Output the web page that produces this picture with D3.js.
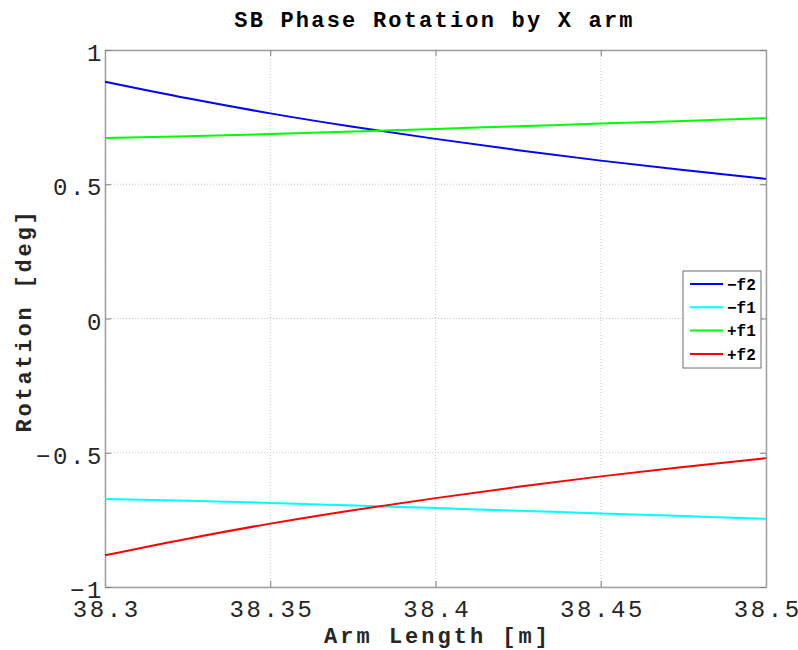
<!DOCTYPE html>
<html><head><meta charset="utf-8">
<script src="https://cdn.jsdelivr.net/npm/d3@7"></script>
<style>
body{margin:0;background:#fff;}
svg{display:block;}
</style></head>
<body><svg id="c" width="798" height="650"></svg>
<script>
const armLength = [38.3, 38.325, 38.35, 38.375, 38.4, 38.425, 38.45, 38.475, 38.5];
const minusF2 = [0.882, 0.820, 0.764, 0.714, 0.669, 0.627, 0.588, 0.553, 0.520];
const minusF1 = [-0.672, -0.679, -0.687, -0.696, -0.706, -0.716, -0.726, -0.736, -0.746];
const plusF1  = [0.672, 0.679, 0.687, 0.696, 0.706, 0.716, 0.726, 0.736, 0.746];
const plusF2  = [-0.882, -0.820, -0.764, -0.714, -0.669, -0.627, -0.588, -0.553, -0.520];
const seriesNames = ["−f2", "−f1", "+f1", "+f2"];
const seriesColors = ["#0000ff", "#00ffff", "#00ff00", "#ff0000"];
const xTicks = [38.3, 38.35, 38.4, 38.45, 38.5];
const yTicks = [-1, -0.5, 0, 0.5, 1];
const titleText = "SB Phase Rotation by X arm";
const xLabel = "Arm Length [m]";
const yLabel = "Rotation [deg]";

const svg = d3.select("#c");
const L = 105, R = 766, T = 50, B = 587;
const x = d3.scaleLinear().domain([38.3, 38.5]).range([L, R]);
const y = d3.scaleLinear().domain([-1, 1]).range([B, T]);
const mono = "'Liberation Mono','Courier New',monospace";
const fmt = v => String(v).replace("-", "\u2212");
const TLS = 2.6; // tick label letter spacing

// grid
const g = svg.append("g");
g.selectAll("line.gx").data(xTicks).join("line")
  .attr("x1", d => x(d)).attr("x2", d => x(d)).attr("y1", T).attr("y2", B)
  .attr("stroke", "#c8c8c8").attr("stroke-width", 1).attr("stroke-dasharray", "1,2");
g.selectAll("line.gy").data(yTicks).join("line")
  .attr("y1", d => y(d)).attr("y2", d => y(d)).attr("x1", L).attr("x2", R)
  .attr("stroke", "#c8c8c8").attr("stroke-width", 1).attr("stroke-dasharray", "1,2");

// axes with inward ticks
const axB = svg.append("g").attr("transform", `translate(0,${B})`)
  .call(d3.axisBottom(x).tickValues(xTicks).tickSizeInner(-6).tickSizeOuter(0).tickPadding(10).tickFormat(d => fmt(d)));
const axT = svg.append("g").attr("transform", `translate(0,${T})`)
  .call(d3.axisTop(x).tickValues(xTicks).tickSizeInner(-6).tickSizeOuter(0).tickFormat(""));
const axL = svg.append("g").attr("transform", `translate(${L},0)`)
  .call(d3.axisLeft(y).tickValues(yTicks).tickSizeInner(-6).tickSizeOuter(0).tickPadding(10).tickFormat(d => fmt(d)));
const axR = svg.append("g").attr("transform", `translate(${R},0)`)
  .call(d3.axisRight(y).tickValues(yTicks).tickSizeInner(-6).tickSizeOuter(0).tickFormat(""));
[axB, axT, axL, axR].forEach(a => {
  a.select(".domain").attr("stroke", "#a0a0a0").attr("stroke-width", 1.5);
  a.selectAll(".tick line").attr("stroke", "#808080");
  a.selectAll("text").attr("font-family", mono).attr("font-size", 24).attr("fill", "#262626")
    .attr("letter-spacing", TLS);
});
axB.selectAll("text").attr("y", 30).attr("dy", 0).attr("dx", TLS / 2);
axL.selectAll("text").attr("x", -1).attr("dy", 0).attr("y", 10.5);

// lines
const allSeries = [minusF2, minusF1, plusF1, plusF2];
const line = d3.line().x((d, i) => x(armLength[i])).y(d => y(d)).curve(d3.curveMonotoneX);
svg.append("g").selectAll("path").data(allSeries).join("path")
  .attr("d", d => line(d)).attr("fill", "none")
  .attr("stroke", (d, i) => seriesColors[i]).attr("stroke-width", 2);

// title and labels
svg.append("text").attr("x", (L + R) / 2 - 1).attr("y", 27).attr("text-anchor", "middle")
  .attr("font-family", mono).attr("font-weight", "bold").attr("font-size", 22).attr("letter-spacing", 2.2).attr("fill", "#000")
  .text(titleText);
svg.append("text").attr("x", (L + R) / 2 + 2).attr("y", 643).attr("text-anchor", "middle")
  .attr("font-family", mono).attr("font-weight", "bold").attr("font-size", 22).attr("letter-spacing", 3).attr("fill", "#262626")
  .text(xLabel);
svg.append("text").attr("transform", `translate(31,${(T + B) / 2 + 2}) rotate(-90)`).attr("text-anchor", "middle")
  .attr("font-family", mono).attr("font-weight", "bold").attr("font-size", 22).attr("letter-spacing", 2.8).attr("fill", "#262626")
  .text(yLabel);

// legend
const lg = svg.append("g");
lg.append("rect").attr("x", 683).attr("y", 271).attr("width", 78).attr("height", 97)
  .attr("fill", "#fff").attr("stroke", "#6e6e6e").attr("stroke-width", 1);
seriesNames.forEach((n, i) => {
  const yy = 284 + i * 23.3;
  lg.append("line").attr("x1", 690).attr("x2", 723).attr("y1", yy).attr("y2", yy)
    .attr("stroke", seriesColors[i]).attr("stroke-width", 2);
  lg.append("text").attr("x", 727).attr("y", yy).attr("dy", "0.35em")
    .attr("font-family", mono).attr("font-size", 16).attr("font-weight", "bold").attr("fill", "#000").text(n);
});
</script></body></html>
